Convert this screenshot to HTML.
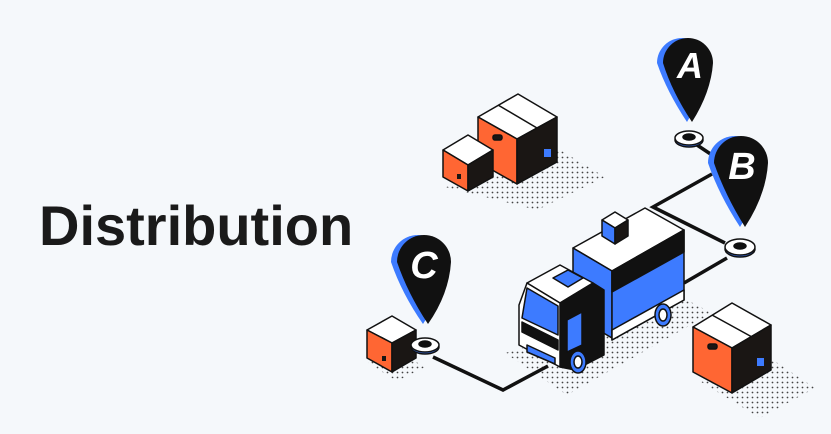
<!DOCTYPE html>
<html><head><meta charset="utf-8"><style>
html,body{margin:0;padding:0;background:#f5f8fb;}
svg{display:block}
</style></head><body>
<svg width="831" height="434" viewBox="0 0 831 434" xmlns="http://www.w3.org/2000/svg">
<defs>
<pattern id="dots" width="5" height="5" patternUnits="userSpaceOnUse"><circle cx="2.5" cy="2.5" r="0.9" fill="#444"/></pattern>
</defs>
<rect width="831" height="434" fill="#f5f8fb"/>
<text x="39" y="245" font-family="Liberation Sans, sans-serif" font-weight="bold" font-size="56" fill="#1a1a1a">Distribution</text>

<!-- shadows -->
<polygon points="445,187 537,210 605,177 560,150" fill="url(#dots)"/>
<polygon points="505,353 567,395 712,313 687,300" fill="url(#dots)"/>
<polygon points="698,380 760,418 815,388 770,358" fill="url(#dots)"/>
<polygon points="368,363 397,381 425,367 395,350" fill="url(#dots)"/>

<!-- routes -->
<g stroke="#111" stroke-width="3.5" fill="none" stroke-linejoin="miter">
<polyline points="697,145 712,155"/>
<polyline points="712,174 653,207 725,243"/>
<polyline points="727,258 684,283"/>
<polyline points="433,357 503,390 548,366"/>
</g>

<!-- back boxes -->
<g stroke="#111" stroke-width="1.5" stroke-linejoin="round">
<polygon points="518,94 557,117 517,139 478,117" fill="#fff"/>
<line x1="498" y1="105" x2="537" y2="128"/>
<polygon points="478,117 517,139 517,184 478,162" fill="#ff6633"/>
<polygon points="517,139 557,117 557,162 517,184" fill="#1a1614"/>
<rect x="544" y="149" width="7" height="8" fill="#3d7bff" stroke="none"/>
<rect x="493" y="135" width="9" height="5" rx="2" fill="#1a1614"/>
<polygon points="468,135 493,150 468,165 443,150" fill="#fff"/>
<polygon points="443,150 468,165 468,191 443,177" fill="#ff6633"/>
<polygon points="468,165 493,150 493,177 468,191" fill="#1a1614"/>
<rect x="457" y="174" width="4" height="5" fill="#1a1614" stroke="none"/>
</g>

<!-- right box -->
<g stroke="#111" stroke-width="1.5" stroke-linejoin="round">
<polygon points="732,303 771,325 732,348 693,327" fill="#fff"/>
<line x1="712" y1="315" x2="752" y2="337"/>
<polygon points="693,327 732,348 732,393 693,372" fill="#ff6633"/>
<polygon points="732,348 771,325 771,370 732,393" fill="#1a1614"/>
<rect x="757" y="358" width="7" height="8" fill="#3d7bff" stroke="none"/>
<rect x="708" y="344" width="9" height="5" rx="2" fill="#1a1614"/>
</g>

<!-- left box C -->
<g stroke="#111" stroke-width="1.5" stroke-linejoin="round">
<polygon points="392,316 416,330 392,343 367,330" fill="#fff"/>
<polygon points="367,330 392,343 392,372 367,358" fill="#ff6633"/>
<polygon points="392,343 416,330 416,358 392,372" fill="#1a1614"/>
<rect x="382" y="356" width="4" height="5" fill="#1a1614" stroke="none"/>
</g>

<!-- truck -->
<g stroke="#111" stroke-width="1.5" stroke-linejoin="round">
<polygon points="573,248 645,208 684,230 612,271" fill="#fff"/>
<polygon points="573,248 612,271 612,338 573,315" fill="#3d7bff"/>
<polygon points="612,271 684,230 684,300 612,340" fill="#3d7bff"/>
<polygon points="612,271 684,230 684,252 612,292" fill="#111"/>
<polygon points="612,330 684,290 684,300 612,340" fill="#fff"/>
<!-- cab -->
<polygon points="527,283 560,265 593,283 560,303" fill="#fff"/>
<polygon points="553,278 568,270 583,278 568,287" fill="#3d7bff"/>
<polygon points="593,283 604,290 604,355 575,370 560,367 560,303" fill="#111"/>
<polygon points="527,283 560,303 560,367 519,345 519,305" fill="#fff"/>
<polygon points="527,288 558,306 558,335 522,318" fill="#3d7bff"/>
<polygon points="522,322 558,340 558,350 522,332" fill="#111"/>
<polygon points="527,345 555,358 555,364 527,352" fill="#3d7bff"/>
<polygon points="567,320 582,312 582,345 567,352" fill="#3d7bff"/>
<ellipse cx="578" cy="362" rx="8" ry="11" fill="#3d7bff"/>
<ellipse cx="578" cy="362" rx="4" ry="6" fill="#fff"/>
<ellipse cx="663" cy="315" rx="8" ry="11" fill="#3d7bff"/>
<ellipse cx="663" cy="315" rx="4" ry="6" fill="#fff"/>
<!-- roof cube -->
<polygon points="615,212 628,220 615,228 602,220" fill="#fff"/>
<polygon points="602,220 615,228 615,244 602,236" fill="#3d7bff"/>
<polygon points="615,228 628,220 628,236 615,244" fill="#1a1614"/>
</g>

<!-- rings -->
<g stroke="#111" stroke-width="1.5">
<ellipse cx="689" cy="140" rx="14" ry="7" fill="#3d7bff"/>
<ellipse cx="689" cy="138" rx="14" ry="7" fill="#fff"/>
<ellipse cx="689" cy="137" rx="6" ry="3" fill="#111"/>
<ellipse cx="740" cy="249" rx="15" ry="8" fill="#3d7bff"/>
<ellipse cx="740" cy="247" rx="15" ry="8" fill="#fff"/>
<ellipse cx="740" cy="246" rx="6" ry="3" fill="#111"/>
<ellipse cx="425" cy="347" rx="14" ry="7" fill="#3d7bff"/>
<ellipse cx="425" cy="345" rx="14" ry="7" fill="#fff"/>
<ellipse cx="425" cy="344" rx="6" ry="3" fill="#111"/>
</g>

<!-- pins -->
<g font-family="Liberation Sans, sans-serif" font-weight="bold" fill="#fff" text-anchor="middle">
<path d="M660,63 A25,25 0 1 1 710,63 Q708,92 690,122 Q670,92 660,63 Z" fill="#3d7bff" transform="translate(-3,0)"/>
<path d="M663,63 A25,25 0 1 1 713,63 Q711,92 692,122 Q672,92 663,63 Z" fill="#111"/>
<text x="690" y="78" font-size="36" font-style="italic">A</text>
<path d="M711,163 A27,27 0 1 1 765,163 Q763,195 743,227 Q722,195 711,163 Z" fill="#3d7bff" transform="translate(-3,0)"/>
<path d="M714,163 A27,27 0 1 1 768,163 Q766,195 745,227 Q725,195 714,163 Z" fill="#111"/>
<text x="742" y="179" font-size="38" font-style="italic">B</text>
<path d="M394,262 A27,27 0 1 1 448,262 Q446,294 426,324 Q405,294 394,262 Z" fill="#3d7bff" transform="translate(-3,0)"/>
<path d="M397,262 A27,27 0 1 1 451,262 Q449,294 428,324 Q408,294 397,262 Z" fill="#111"/>
<text x="424" y="278" font-size="38" font-style="italic">C</text>
</g>
</svg>
</body></html>
